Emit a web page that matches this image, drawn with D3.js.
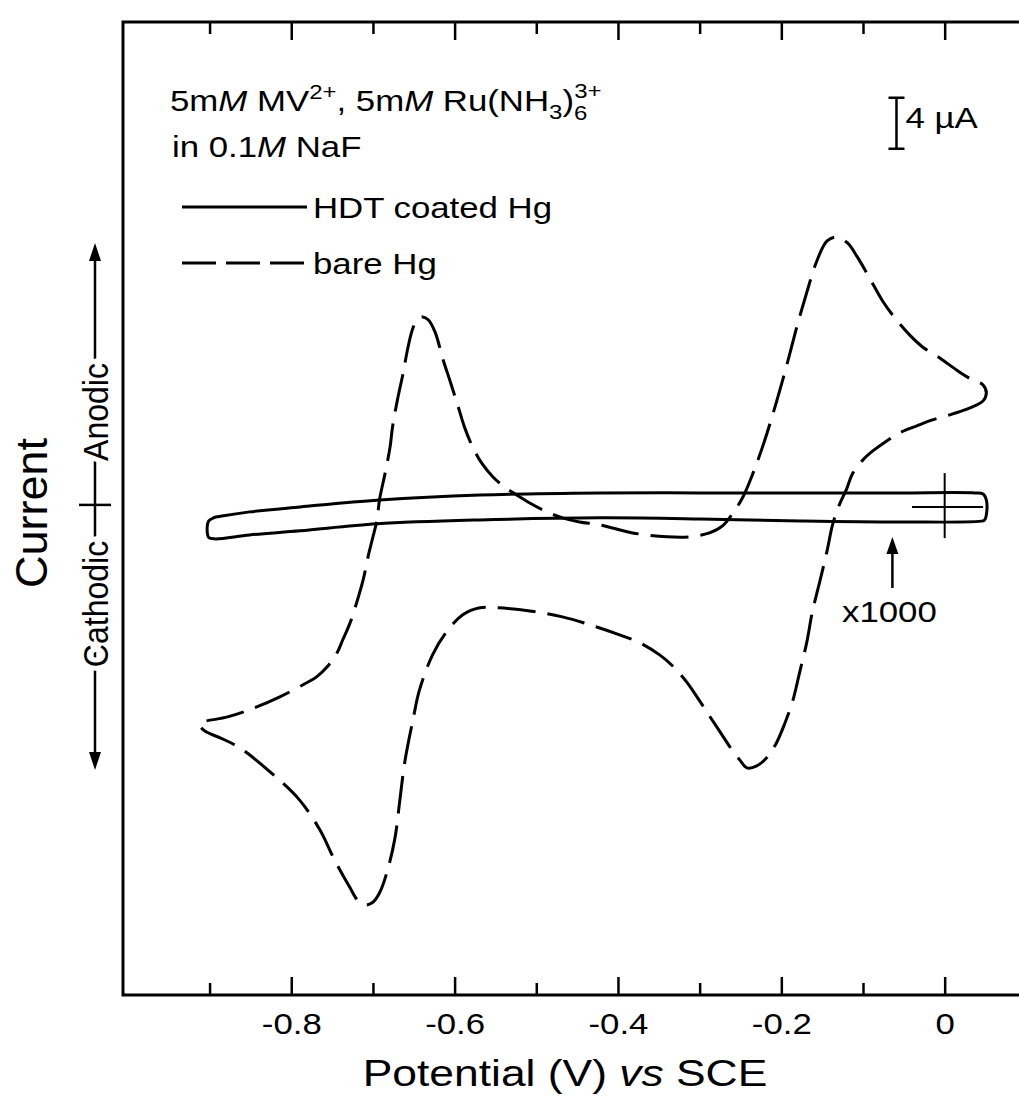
<!DOCTYPE html>
<html>
<head>
<meta charset="utf-8">
<script src="https://cdn.jsdelivr.net/npm/d3@7"></script>
<style>
  body { margin: 0; background: #fff; }
  text { font-family: "Liberation Sans", Arial, Helvetica, sans-serif; fill: #000; }
</style>
</head>
<body>
<svg id="chart" width="1019" height="1104"></svg>
<script>
// Potential axis ticks (V vs SCE)
const majorTicks = [-0.8, -0.6, -0.4, -0.2, 0];
const minorTicks = [-0.9, -0.7, -0.5, -0.3, -0.1];

// Bare Hg voltammogram: potential (V) and current (µA).
// Sweep starts at +0.05 V, runs negative to -0.91 V and returns.
const bareE = [0.051,0.047,0.034,0.010,-0.015,-0.034,-0.055,-0.071,-0.088,-0.100,-0.113,-0.120,-0.129,-0.137,-0.144,-0.153,-0.162,-0.169,-0.178,-0.186,-0.196,-0.206,-0.218,-0.230,-0.242,-0.251,-0.263,-0.275,-0.288,-0.300,-0.316,-0.333,-0.349,-0.373,-0.398,-0.426,-0.468,-0.508,-0.548,-0.569,-0.590,-0.610,-0.627,-0.643,-0.651,-0.661,-0.667,-0.673,-0.682,-0.692,-0.701,-0.710,-0.719,-0.728,-0.747,-0.765,-0.790,-0.826,-0.863,-0.887,-0.906,-0.912,
  -0.878,-0.845,-0.814,-0.786,-0.769,-0.756,-0.744,-0.737,-0.728,-0.720,-0.712,-0.706,-0.700,-0.695,-0.692,-0.685,-0.679,-0.676,-0.670,-0.663,-0.657,-0.651,-0.645,-0.639,-0.632,-0.624,-0.614,-0.606,-0.597,-0.588,-0.578,-0.567,-0.553,-0.539,-0.524,-0.508,-0.487,-0.468,-0.447,-0.422,-0.382,-0.340,-0.312,-0.288,-0.272,-0.260,-0.247,-0.235,-0.223,-0.211,-0.200,-0.190,-0.180,-0.169,-0.157,-0.144,-0.132,-0.119,-0.107,-0.092,-0.076,-0.059,-0.043,-0.027,-0.006,0.018,0.034,0.047];
const bareI = [8.94,8.32,7.85,7.30,6.83,6.36,5.81,5.18,4.39,3.69,2.59,1.41,0.16,-1.33,-3.45,-5.88,-8.24,-10.67,-13.10,-15.22,-17.03,-18.52,-19.69,-20.32,-20.48,-19.85,-18.83,-17.65,-16.40,-15.22,-13.73,-12.48,-11.61,-10.67,-10.04,-9.42,-8.63,-8.16,-7.92,-7.92,-8.47,-9.81,-11.61,-14.36,-16.71,-20.01,-22.99,-25.97,-28.48,-30.29,-31.07,-31.23,-30.84,-29.89,-27.70,-25.34,-22.99,-20.79,-18.91,-18.12,-17.58,-17.03,
  -16.48,-15.77,-14.91,-13.97,-13.34,-12.55,-11.46,-10.44,-9.10,-7.53,-5.73,-3.92,-2.35,-1.02,0.55,2.67,4.71,6.28,8.40,10.51,12.55,14.04,14.75,14.91,14.67,13.73,11.53,9.96,8.16,6.28,4.71,3.45,2.35,1.57,0.94,0.31,-0.39,-0.86,-1.18,-1.41,-2.04,-2.35,-2.35,-2.04,-1.49,-0.55,0.78,2.59,4.71,7.14,9.57,11.93,14.36,16.79,19.22,20.87,21.18,20.71,19.62,17.97,16.16,14.67,13.50,12.55,11.69,10.59,9.96,9.57];

// HDT-coated Hg voltammogram: potential (V) and current (nA).
// Drawn on the µA scale, i.e. magnified x1000.
const hdtE = [0.047,-0.055,-0.177,-0.300,-0.422,-0.569,-0.695,-0.789,-0.851,-0.893,-0.901,-0.903,-0.901,-0.895,-0.885,-0.851,-0.789,-0.692,-0.569,-0.422,-0.300,-0.177,-0.055,0.037,0.047,0.051,0.051,0.049];
const hdtI = [-1.10,-1.18,-1.10,-0.94,-0.86,-1.02,-1.33,-1.88,-2.20,-2.51,-2.40,-1.80,-1.10,-0.85,-0.72,-0.39,0.00,0.55,0.94,1.10,1.10,1.10,1.10,1.10,1.02,0.55,-0.63,-1.02];

// Scale bar (µA) and the zero marks of the magnified trace
const scaleBarE = -0.059, scaleBarFrom = 28.1, scaleBarSize = 4;
const zeroMarkE = [-0.040, 0.047];      // horizontal zero-current line
const zeroMarkI = [-2.45, 2.65];        // vertical mark at 0 V
const magnifyArrowE = -0.064;

const plotL = 123, plotR = 1019, plotT = 22, plotB = 995;
const sx = 1.2; // horizontal stretch of the typeface

const svg = d3.select("#chart");
const x = d3.scaleLinear().domain([-1.006, 0.091]).range([plotL, plotR]);
const y = d3.scaleLinear().domain([-38.3, 38.05]).range([plotB, plotT]);

const ink = "#000";

// Frame (open at the right)
svg.append("path")
  .attr("d", `M${plotR},${plotT}H${plotL}V${plotB}H${plotR}`)
  .attr("fill", "none").attr("stroke", ink).attr("stroke-width", 3);

// Bottom axis: inward ticks with labels
const fmt = d => d === 0 ? "0" : d.toFixed(1);
const gB = svg.append("g").attr("transform", `translate(0,${plotB})`)
  .call(d3.axisBottom(x).tickValues(majorTicks).tickSize(-18).tickPadding(18).tickFormat(fmt));
const gBm = svg.append("g").attr("transform", `translate(0,${plotB})`)
  .call(d3.axisBottom(x).tickValues(minorTicks).tickSize(-12).tickFormat(""));
// Top axis: inward ticks, no labels
const gT = svg.append("g").attr("transform", `translate(0,${plotT})`)
  .call(d3.axisTop(x).tickValues(majorTicks).tickSize(-18).tickFormat(""));
const gTm = svg.append("g").attr("transform", `translate(0,${plotT})`)
  .call(d3.axisTop(x).tickValues(minorTicks).tickSize(-12).tickFormat(""));
[gB, gBm, gT, gTm].forEach(g => {
  g.select(".domain").remove();
  g.selectAll(".tick line").attr("stroke", ink).attr("stroke-width", 2.5);
});
gB.selectAll(".tick text")
  .attr("font-size", 29).attr("fill", ink)
  .attr("font-family", '"Liberation Sans", Arial, sans-serif')
  .attr("transform", `scale(${sx},1)`);

// Axis title
const xt = svg.append("text")
  .attr("transform", `translate(565,1086) scale(${sx},1)`)
  .attr("text-anchor", "middle").attr("font-size", 37);
xt.append("tspan").text("Potential (V) ");
xt.append("tspan").attr("font-style", "italic").text("vs");
xt.append("tspan").text(" SCE");

// Vertical "Current" label with anodic/cathodic double arrow
const arrowX = 95, arrowTop = 243, arrowBot = 770, crossY = y(0) - 2;
svg.append("line").attr("x1", arrowX).attr("x2", arrowX)
  .attr("y1", arrowTop + 12).attr("y2", arrowBot - 12)
  .attr("stroke", ink).attr("stroke-width", 2.5);
svg.append("path").attr("d", `M${arrowX},${arrowTop}l-6,18h12z`).attr("fill", ink);
svg.append("path").attr("d", `M${arrowX},${arrowBot}l-6,-18h12z`).attr("fill", ink);
svg.append("line").attr("x1", arrowX - 16).attr("x2", arrowX + 16)
  .attr("y1", crossY).attr("y2", crossY).attr("stroke", ink).attr("stroke-width", 2.5);
function sideLabel(txt, cy, size) {
  svg.append("text")
    .attr("transform", `translate(${arrowX},${cy}) scale(1.1,1) rotate(-90)`)
    .attr("text-anchor", "middle").attr("dy", "0.36em")
    .attr("font-size", size)
    .attr("stroke", "#fff").attr("stroke-width", 10).attr("paint-order", "stroke")
    .text(txt);
}
sideLabel("Anodic", 412, 32);
sideLabel("Cathodic", 604, 32);
svg.append("text")
  .attr("transform", `translate(47,513) rotate(-90)`)
  .attr("text-anchor", "middle").attr("font-size", 45).text("Current");

// Annotation: solution composition
const t1 = svg.append("text").attr("transform", `translate(170,111) scale(${sx},1)`).attr("font-size", 29);
t1.append("tspan").text("5m");
t1.append("tspan").attr("font-style", "italic").text("M");
t1.append("tspan").text(" MV");
t1.append("tspan").attr("font-size", 20).attr("dy", -12).text("2+");
t1.append("tspan").attr("dy", 12).text(", 5m");
t1.append("tspan").attr("font-style", "italic").text("M");
t1.append("tspan").text(" Ru(NH");
t1.append("tspan").attr("font-size", 20).attr("dy", 8).text("3");
t1.append("tspan").attr("dy", -8).text(")");
t1.append("tspan").attr("font-size", 20).attr("dy", 9).text("6");
t1.append("tspan").attr("font-size", 20).attr("dx", -11).attr("dy", -22).text("3+");

const t2 = svg.append("text").attr("transform", `translate(172,157) scale(${sx},1)`).attr("font-size", 29);
t2.append("tspan").text("in 0.1");
t2.append("tspan").attr("font-style", "italic").text("M");
t2.append("tspan").text(" NaF");

// Legend
const legend = [
  { label: "HDT coated Hg", dash: null, y: 207 },
  { label: "bare Hg", dash: "34,10", y: 263 }
];
legend.forEach(d => {
  svg.append("line").attr("x1", 182).attr("x2", 307).attr("y1", d.y).attr("y2", d.y)
    .attr("stroke", ink).attr("stroke-width", 3).attr("stroke-dasharray", d.dash);
  svg.append("text").attr("transform", `translate(313,${d.y + 11}) scale(${sx},1)`)
    .attr("font-size", 29).text(d.label);
});

// Scale bar
const sbx = x(scaleBarE);
svg.append("path")
  .attr("d", `M${sbx - 8},${y(scaleBarFrom + scaleBarSize)}h16M${sbx},${y(scaleBarFrom + scaleBarSize)}V${y(scaleBarFrom)}M${sbx - 8},${y(scaleBarFrom)}h16`)
  .attr("fill", "none").attr("stroke", ink).attr("stroke-width", 2.5);
svg.append("text").attr("transform", `translate(${sbx + 9},128) scale(${sx},1)`)
  .attr("font-size", 29).text("4 \u00b5A");

// Curves
const pts = (E, I) => E.map((e, k) => [x(e), y(I[k])]);
const loop = d3.line().curve(d3.curveCatmullRomClosed.alpha(0.5));

svg.append("path").attr("d", loop(pts(bareE, bareI)))
  .attr("fill", "none").attr("stroke", ink).attr("stroke-width", 3)
  .attr("stroke-dasharray", "38,12").attr("stroke-linejoin", "round");

svg.append("path").attr("d", loop(pts(hdtE, hdtI)))
  .attr("fill", "none").attr("stroke", ink).attr("stroke-width", 3)
  .attr("stroke-linejoin", "round");

// Zero marks of the magnified trace
svg.append("line").attr("x1", x(zeroMarkE[0])).attr("x2", x(zeroMarkE[1]))
  .attr("y1", y(0)).attr("y2", y(0)).attr("stroke", ink).attr("stroke-width", 2);
svg.append("line").attr("x1", x(0)).attr("x2", x(0))
  .attr("y1", y(zeroMarkI[0])).attr("y2", y(zeroMarkI[1])).attr("stroke", ink).attr("stroke-width", 2);

// x1000 pointer
const ax = x(magnifyArrowE);
svg.append("line").attr("x1", ax).attr("x2", ax).attr("y1", 588).attr("y2", 550)
  .attr("stroke", ink).attr("stroke-width", 2.5);
svg.append("path").attr("d", `M${ax},${537}l-6,17h12z`).attr("fill", ink);
svg.append("text").attr("transform", `translate(${ax - 3},622) scale(${sx},1)`)
  .attr("text-anchor", "middle").attr("font-size", 29).text("x1000");
</script>
</body>
</html>
